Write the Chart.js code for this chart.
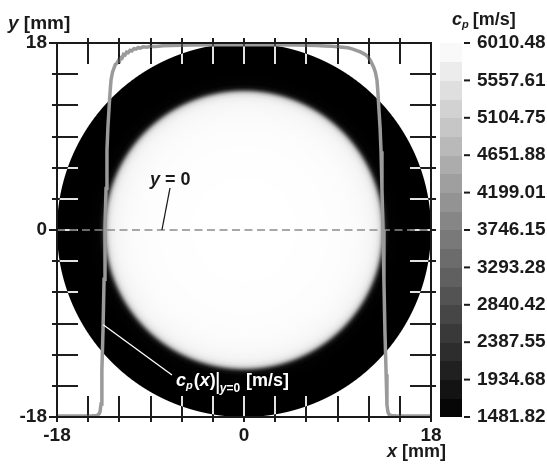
<!DOCTYPE html>
<html>
<head>
<meta charset="utf-8">
<script src="https://cdn.jsdelivr.net/npm/chart.js@4.4.1/dist/chart.umd.min.js"></script>
<style>
  html, body { margin: 0; padding: 0; background: #fff; }
  canvas { display: block; }
</style>
</head>
<body>
<canvas id="c" width="547" height="464"></canvas>
<script>
// ---- data -------------------------------------------------------------
// spatial axes (mm)
const AXIS_MIN = -18, AXIS_MAX = 18, TICK_STEP = 3;
const labelledTicks = [-18, 0, 18];

// colour bar ticks, speed of sound c_p (m/s)
const cbTicks = [1481.82, 1934.68, 2387.55, 2840.42, 3293.28, 3746.15,
                 4199.01, 4651.88, 5104.75, 5557.61, 6010.48];
const cbBands = 20;

// outer radius of the phantom disc (mm)
const DISC_RADIUS = 18;

// radial c_p profile of the phantom: radius (mm) -> c_p (m/s)
const fieldR  = [0,    4,    6,    8,    10,   11,   11.8, 12.3, 12.7, 13.0, 13.2, 13.35, 13.5, 13.7, 14.0, 15,      18];
const fieldCp = [6010, 6005, 5998, 5985, 5960, 5930, 5880, 5830, 5720, 5450, 4800, 3800,  2700, 1800, 1530, 1481.82, 1481.82];

// c_p(x) sampled along y = 0
const profileX = [
  -18, -16, -14.6, -14.15, -13.95, -13.86, -13.76, -13.68, -13.57, -13.47, -13.38,
  -13.28, -13.19, -13.1, -13.0, -12.9, -12.8, -12.65, -12.51, -12.38, -12.22,
  -12.1, -11.98, -11.86, -11.74, -11.6, -11.45, -11.3, -11.15, -10.97, -10.8,
  -10.6, -10.4, -10.2, -10.0, -9.7, -9.34, -9.0, -8.5, -7.8, -7.0, -5.0, -3.0,
  0, 3.0, 5.0, 7.0, 7.8, 8.5, 9.0, 9.5, 10.0, 10.4, 10.8, 11.2, 11.6, 11.9,
  12.2, 12.5, 12.65, 12.8, 12.9, 13.0, 13.1, 13.19, 13.28, 13.38, 13.47, 13.57,
  13.68, 13.76, 13.86, 13.95, 14.15, 14.6, 16, 18
];
const profileCp = [
  1494, 1494, 1496, 1500, 1520, 1545, 1640, 2050, 2535, 3150, 3746,
  4250, 4714, 4990, 5199, 5400, 5562, 5660, 5708, 5752, 5768,
  5798, 5790, 5832, 5826, 5872, 5864, 5900, 5893, 5922, 5915,
  5942, 5936, 5954, 5949, 5964, 5960, 5971, 5968, 5976, 5980, 5985, 5988,
  5990, 5988, 5985, 5980, 5975, 5970, 5966, 5960, 5952, 5940, 5922, 5902, 5876, 5850,
  5790, 5712, 5655, 5560, 5390, 5180, 4980, 4700, 4240, 3746, 3120, 2500,
  2000, 1630, 1540, 1515, 1500, 1496, 1494, 1494
];

// ---- helpers ----------------------------------------------------------
const CP_MIN = cbTicks[0], CP_MAX = cbTicks[cbTicks.length - 1];
const FONT = '"Liberation Sans", Arial, Helvetica, sans-serif';
const INK = '#1a1a1a';

function interp(xs, ys, v) {
  if (v <= xs[0]) return ys[0];
  for (let i = 1; i < xs.length; i++) {
    if (v <= xs[i]) {
      const t = (v - xs[i - 1]) / (xs[i] - xs[i - 1]);
      return ys[i - 1] + t * (ys[i] - ys[i - 1]);
    }
  }
  return ys[ys.length - 1];
}
function grayOf(cp) {
  const t = Math.min(1, Math.max(0, (cp - CP_MIN) / (CP_MAX - CP_MIN)));
  return 255 * t;
}
// draw a run of text pieces one after another on a common baseline
function drawRuns(ctx, x, y, runs, color) {
  ctx.fillStyle = color;
  ctx.textBaseline = 'alphabetic';
  ctx.textAlign = 'left';
  let cx = x;
  for (const r of runs) {
    ctx.font = r.font;
    ctx.fillText(r.t, cx, y + (r.dy || 0));
    cx += ctx.measureText(r.t).width + (r.after || 0);
  }
  return cx;
}

// ---- plugins ----------------------------------------------------------
const whiteBackground = {
  id: 'whiteBackground',
  beforeDraw(chart) {
    const c = chart.ctx;
    c.save();
    c.fillStyle = '#fff';
    c.fillRect(0, 0, chart.width, chart.height);
    c.restore();
  }
};

const phantomField = {
  id: 'phantomField',
  beforeDatasetsDraw(chart) {
    const { ctx, chartArea: a, scales } = chart;
    const xs = scales.x, ys = scales.y, cb = scales.cb;
    const w = Math.round(a.right - a.left), h = Math.round(a.bottom - a.top);
    const off = document.createElement('canvas');
    off.width = w; off.height = h;
    const octx = off.getContext('2d');
    const img = octx.createImageData(w, h);
    const pxMm = Math.abs(xs.getValueForPixel(a.left + 1) - xs.getValueForPixel(a.left));
    for (let j = 0; j < h; j++) {
      const ym = ys.getValueForPixel(a.top + j + 0.5);
      for (let i = 0; i < w; i++) {
        const xm = xs.getValueForPixel(a.left + i + 0.5);
        const r = Math.hypot(xm, ym);
        const alpha = Math.min(1, Math.max(0, (DISC_RADIUS - r) / pxMm + 0.5));
        const g = grayOf(interp(fieldR, fieldCp, r));
        const v = Math.round(g * alpha + 255 * (1 - alpha));
        const k = (j * w + i) * 4;
        img.data[k] = img.data[k + 1] = img.data[k + 2] = v;
        img.data[k + 3] = 255;
      }
    }
    octx.putImageData(img, 0, 0);
    ctx.drawImage(off, a.left, a.top);

    // dashed line marking y = 0
    const y0 = ys.getPixelForValue(0);
    ctx.save();
    ctx.strokeStyle = '#8c8c8c';
    ctx.lineWidth = 1.5;
    ctx.setLineDash([8, 4.5]);
    ctx.beginPath();
    ctx.moveTo(a.left, y0);
    ctx.lineTo(a.right, y0);
    ctx.stroke();
    ctx.restore();

    // colour bar
    const bx = cb.left + 9, bw = 22;
    const step = (CP_MAX - CP_MIN) / cbBands;
    for (let b = 0; b < cbBands; b++) {
      const lo = CP_MIN + b * step, hi = lo + step;
      const g = Math.round(grayOf((lo + hi) / 2));
      const yTop = cb.getPixelForValue(hi), yBot = cb.getPixelForValue(lo);
      ctx.fillStyle = `rgb(${g},${g},${g})`;
      ctx.fillRect(bx, Math.floor(yTop), bw, Math.ceil(yBot) - Math.floor(yTop));
    }
    ctx.save();
    ctx.strokeStyle = INK;
    ctx.lineWidth = 2;
    for (const v of cbTicks) {
      const py = cb.getPixelForValue(v);
      ctx.beginPath();
      ctx.moveTo(cb.left + 33, py);
      ctx.lineTo(cb.left + 39, py);
      ctx.stroke();
    }
    ctx.restore();
  }
};

const frameAndNotes = {
  id: 'frameAndNotes',
  afterDraw(chart) {
    const { ctx, chartArea: a, scales } = chart;
    const xs = scales.x, ys = scales.y, cb = scales.cb;

    // ticks crossing all four sides, inverted against what lies beneath
    ctx.save();
    ctx.globalCompositeOperation = 'difference';
    ctx.strokeStyle = '#e2e2e2';
    ctx.lineWidth = 2;
    const OUT = 5, IN = 21;
    for (const t of xs.ticks) {
      if (t.value <= AXIS_MIN || t.value >= AXIS_MAX) continue;
      const px = Math.round(xs.getPixelForValue(t.value));
      ctx.beginPath();
      ctx.moveTo(px, a.bottom + OUT); ctx.lineTo(px, a.bottom - IN);
      ctx.moveTo(px, a.top - OUT); ctx.lineTo(px, a.top + IN);
      ctx.stroke();
    }
    for (const t of ys.ticks) {
      if (t.value <= AXIS_MIN || t.value >= AXIS_MAX) continue;
      const py = Math.round(ys.getPixelForValue(t.value));
      ctx.beginPath();
      ctx.moveTo(a.left - OUT, py); ctx.lineTo(a.left + IN, py);
      ctx.moveTo(a.right + OUT, py); ctx.lineTo(a.right - IN, py);
      ctx.stroke();
    }
    ctx.restore();

    // plot frame and outward marks at labelled positions
    ctx.save();
    ctx.strokeStyle = INK;
    ctx.lineWidth = 2;
    ctx.strokeRect(a.left, a.top, a.right - a.left, a.bottom - a.top);
    ctx.beginPath();
    for (const v of labelledTicks) {
      const py = ys.getPixelForValue(v);
      ctx.moveTo(a.left - 8, py); ctx.lineTo(a.left, py);
      const px = xs.getPixelForValue(v);
      ctx.moveTo(px, a.bottom); ctx.lineTo(px, a.bottom + 5);
    }
    ctx.stroke();
    ctx.restore();

    // axis titles
    ctx.save();
    drawRuns(ctx, 8, 29, [
      { t: 'y', font: `italic bold 19px ${FONT}` },
      { t: ' [mm]', font: `bold 19px ${FONT}` }
    ], INK);
    drawRuns(ctx, 387, 457, [
      { t: 'x', font: `italic bold 18px ${FONT}` },
      { t: ' [mm]', font: `bold 18px ${FONT}` }
    ], INK);
    drawRuns(ctx, 452, 25, [
      { t: 'c', font: `italic bold 18px ${FONT}` },
      { t: 'p', font: `italic bold 11px ${FONT}`, dy: 3, after: 4 },
      { t: '[m/s]', font: `bold 18px ${FONT}` }
    ], INK);

    // "y = 0" note and its leader onto the dashed line
    const y0 = ys.getPixelForValue(0);
    drawRuns(ctx, 150, 185, [
      { t: 'y', font: `italic bold 18px ${FONT}` },
      { t: ' = 0', font: `bold 18px ${FONT}` }
    ], INK);
    ctx.strokeStyle = INK;
    ctx.lineWidth = 1.3;
    ctx.beginPath();
    ctx.moveTo(170, 188);
    ctx.lineTo(xs.getPixelForValue(-7.9), y0);
    ctx.stroke();

    // profile note in white on the dark ring
    const ax = xs.getPixelForValue(-13.55), ay = cb.getPixelForValue(2600);
    ctx.strokeStyle = '#fff';
    ctx.lineWidth = 1.3;
    ctx.beginPath();
    ctx.moveTo(ax, ay);
    ctx.lineTo(172, 375);
    ctx.stroke();
    let cx = drawRuns(ctx, 176, 386, [
      { t: 'c', font: `italic bold 18px ${FONT}` },
      { t: 'p', font: `italic bold 11px ${FONT}`, dy: 3, after: 1 },
      { t: '(', font: `bold 18px ${FONT}` },
      { t: 'x', font: `italic bold 18px ${FONT}` },
      { t: ')', font: `bold 18px ${FONT}`, after: 2 }
    ], '#fff');
    ctx.lineWidth = 2;
    ctx.beginPath();
    ctx.moveTo(cx, 372); ctx.lineTo(cx, 394);
    ctx.stroke();
    cx = drawRuns(ctx, cx + 2, 392, [
      { t: 'y', font: `italic bold 12px ${FONT}` },
      { t: '=0', font: `bold 12px ${FONT}`, after: 6 }
    ], '#fff');
    drawRuns(ctx, cx, 386, [{ t: '[m/s]', font: `bold 18px ${FONT}` }], '#fff');
    ctx.restore();
  }
};

// ---- chart ------------------------------------------------------------
const profilePoints = profileX.map((x, i) => ({ x, y: profileCp[i] }));
const tickFont = { family: FONT, size: 19, weight: 'bold' };
const hiddenTickMarks = { display: true, drawOnChartArea: false, drawTicks: true, color: 'rgba(0,0,0,0)' };

new Chart(document.getElementById('c'), {
  type: 'scatter',
  data: {
    datasets: [{
      data: profilePoints,
      yAxisID: 'cb',
      showLine: true,
      borderColor: '#9a9a9a',
      borderWidth: 3.5,
      pointRadius: 0,
      tension: 0
    }]
  },
  options: {
    responsive: false,
    animation: false,
    devicePixelRatio: 1,
    layout: { padding: { top: 43, left: 0, right: 0, bottom: 0 } },
    plugins: { legend: { display: false }, tooltip: { enabled: false } },
    scales: {
      x: {
        type: 'linear', position: 'bottom', min: AXIS_MIN, max: AXIS_MAX,
        afterFit: s => { s.height = 47; },
        grid: { ...hiddenTickMarks, tickLength: 5 },
        border: { display: false },
        ticks: {
          stepSize: TICK_STEP, autoSkip: false, maxRotation: 0, padding: 2,
          color: INK, font: tickFont,
          callback: v => labelledTicks.includes(v) ? String(v) : ''
        }
      },
      y: {
        type: 'linear', position: 'left', min: AXIS_MIN, max: AXIS_MAX,
        afterFit: s => { s.width = 57; },
        grid: { ...hiddenTickMarks, tickLength: 5 },
        border: { display: false },
        ticks: {
          stepSize: TICK_STEP, autoSkip: false, padding: 5,
          color: INK, font: tickFont,
          callback: v => labelledTicks.includes(v) ? String(v) : ''
        }
      },
      cb: {
        type: 'linear', position: 'right', min: CP_MIN, max: CP_MAX,
        afterBuildTicks: s => { s.ticks = cbTicks.map(v => ({ value: v })); },
        afterFit: s => { s.width = 116; },
        grid: { ...hiddenTickMarks, tickLength: 41 },
        border: { display: false },
        ticks: {
          autoSkip: false, padding: 5, color: INK, font: tickFont,
          callback: v => Number(v).toFixed(2)
        }
      }
    }
  },
  plugins: [whiteBackground, phantomField, frameAndNotes]
});
</script>
</body>
</html>
